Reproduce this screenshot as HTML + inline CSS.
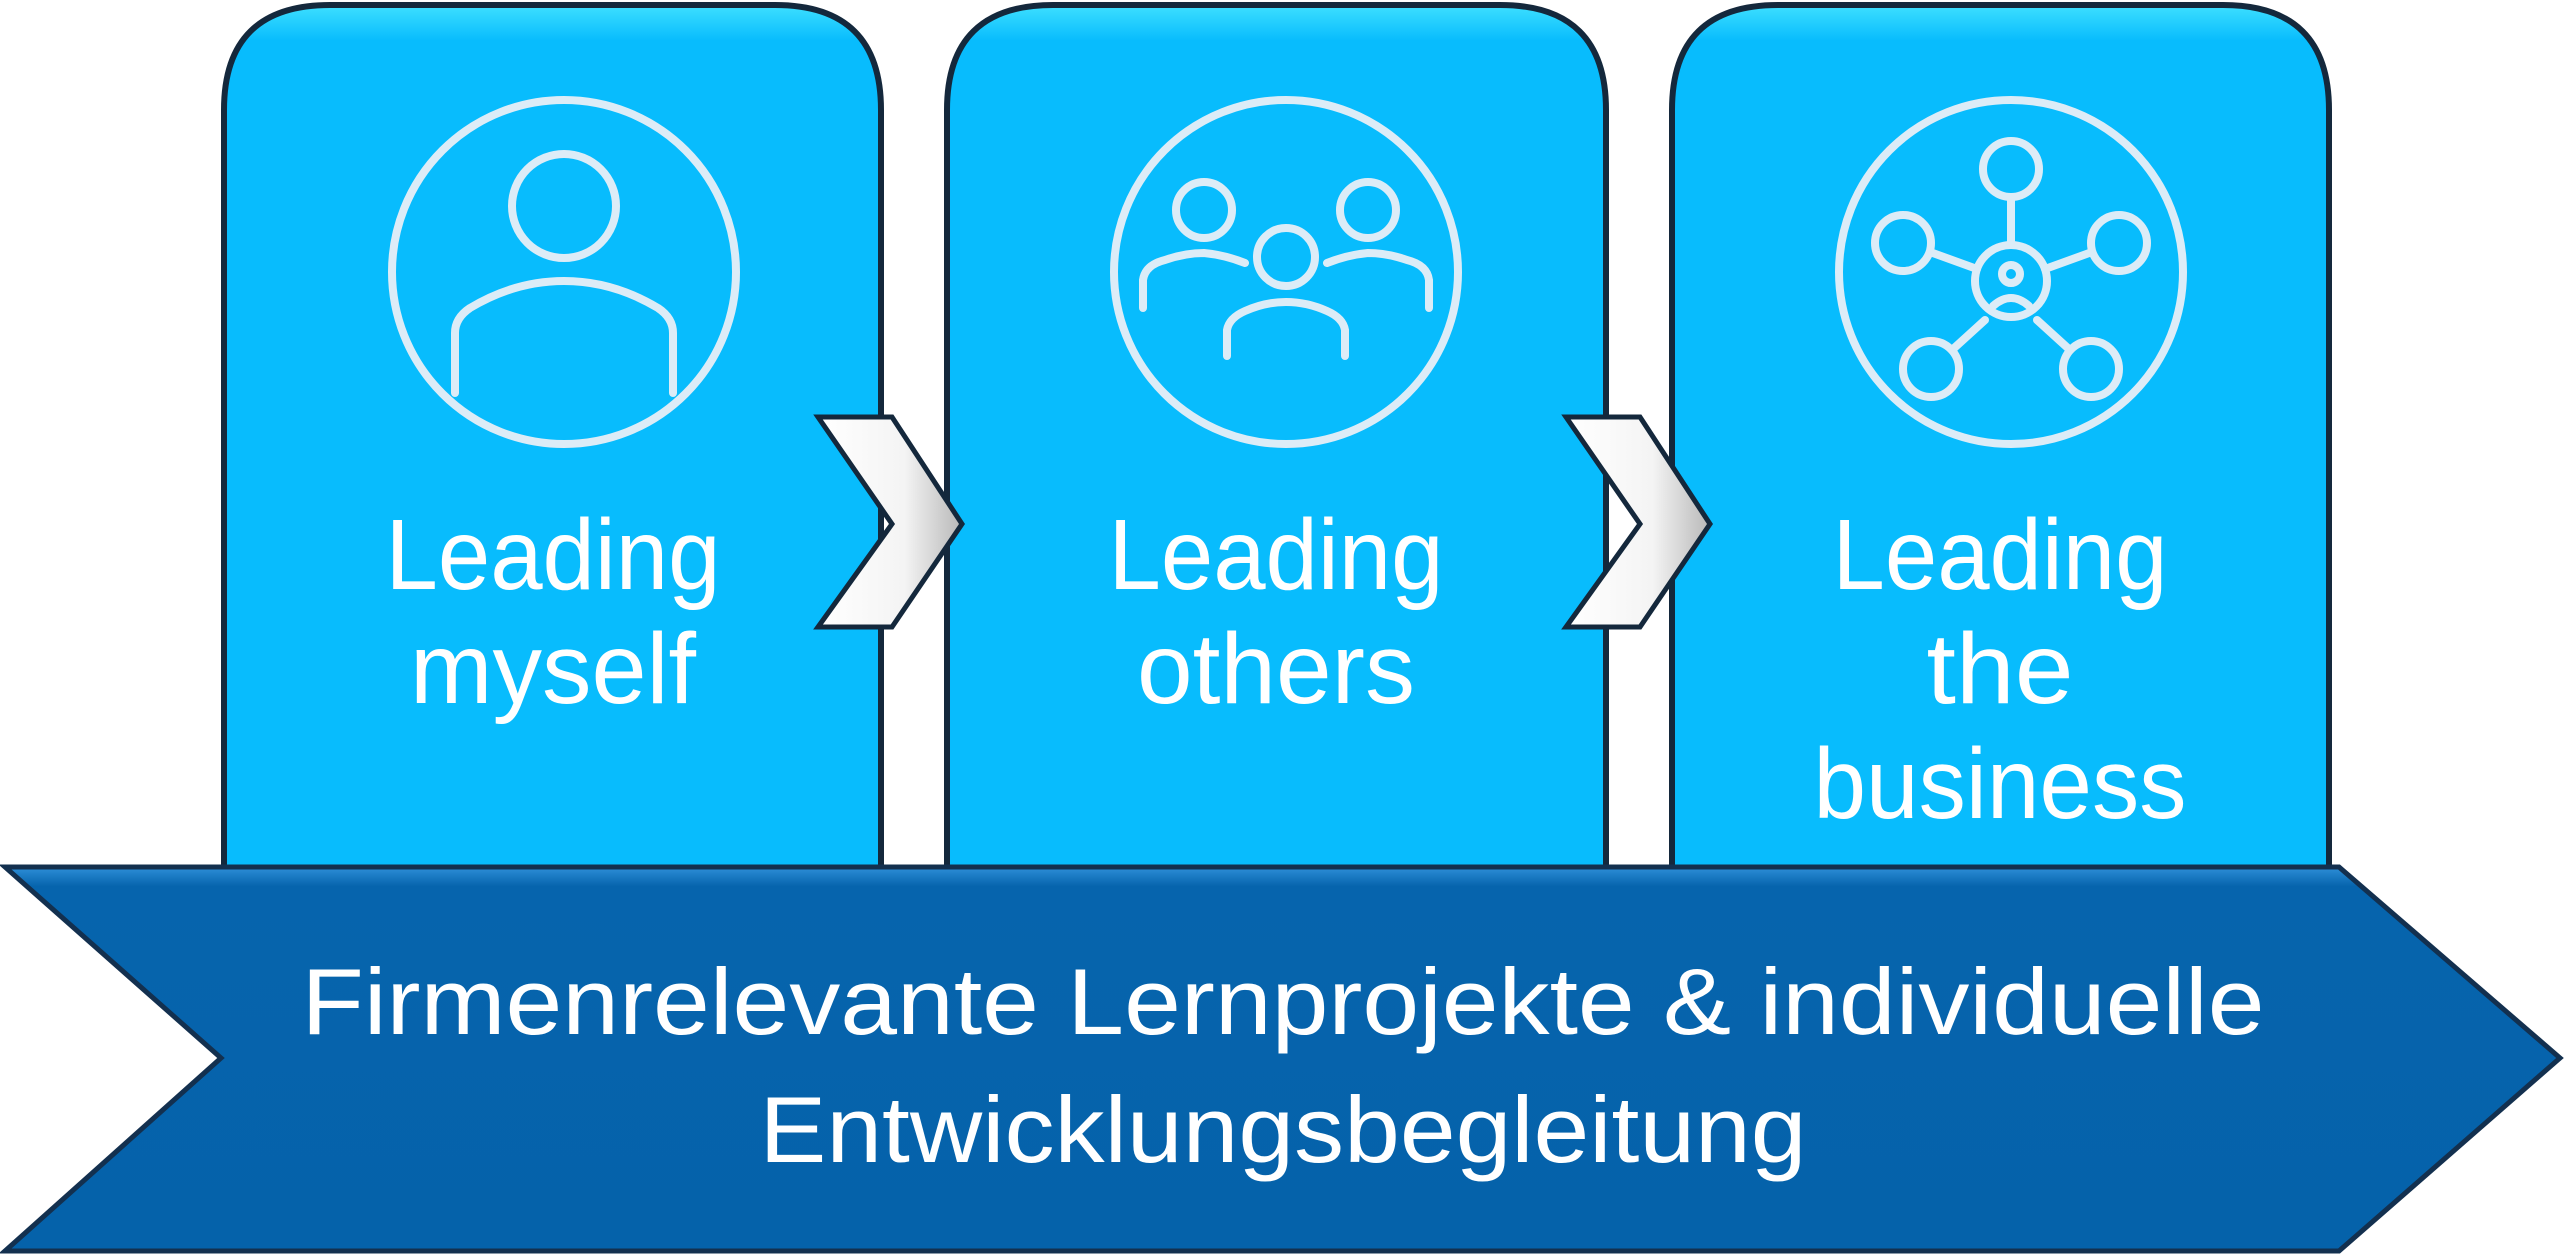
<!DOCTYPE html>
<html><head><meta charset="utf-8"><style>html,body{margin:0;padding:0;background:#fff}svg{display:block}</style></head>
<body>
<svg width="2565" height="1260" viewBox="0 0 2565 1260" xmlns="http://www.w3.org/2000/svg">
<defs>
<linearGradient id="bx" x1="0" y1="0" x2="0" y2="1">
<stop offset="0" stop-color="#3ee0ff"/><stop offset="0.04" stop-color="#08bcfd"/><stop offset="1" stop-color="#08bcfd"/>
</linearGradient>
<linearGradient id="bn" x1="0" y1="0" x2="0" y2="1">
<stop offset="0" stop-color="#2e8fd8"/><stop offset="0.05" stop-color="#0664ad"/><stop offset="1" stop-color="#0562aa"/>
</linearGradient>
<linearGradient id="ch" x1="0" y1="0" x2="1" y2="0">
<stop offset="0" stop-color="#ffffff"/><stop offset="0.6" stop-color="#f4f4f4"/><stop offset="1" stop-color="#b8b8b8"/>
</linearGradient>
</defs>
<g stroke="#14283c" stroke-width="6" fill="url(#bx)">
<path d="M224 900 V110 Q224 5 330 5 H775 Q881 5 881 110 V900 Z"/>
<path d="M947 900 V110 Q947 5 1053 5 H1500 Q1606 5 1606 110 V900 Z"/>
<path d="M1672 900 V110 Q1672 5 1778 5 H2223 Q2329 5 2329 110 V900 Z"/>
</g>
<g fill="url(#ch)" stroke="#14283c" stroke-width="5">
<polygon points="818,417 892,417 962,524 892,627 818,627 892,524"/>
<polygon points="1566,417 1640,417 1710,524 1640,627 1566,627 1640,524"/>
</g>
<polygon points="5,867 2339,867 2560,1058 2339,1251 5,1251 221,1058" fill="url(#bn)" stroke="#13304f" stroke-width="5"/>
<g fill="none" stroke="#dcecf7" stroke-width="8" stroke-linecap="round">
<circle cx="564" cy="272" r="172"/>
<circle cx="564" cy="206" r="52"/>
<path d="M455 393 V333 Q455 318 470 308 Q515 281 564 281 Q613 281 658 308 Q673 318 673 333 V393"/>
<circle cx="1286" cy="272" r="172"/>
<circle cx="1204" cy="210" r="28"/>
<circle cx="1368" cy="210" r="28"/>
<circle cx="1286" cy="257" r="29"/>
<path d="M1143 308 V280 Q1145 265 1165 260 Q1185 253 1204 253 Q1225 255 1245 263"/>
<path d="M1429 308 V280 Q1427 265 1407 260 Q1387 253 1368 253 Q1347 255 1327 263"/>
<path d="M1227 356 V330 Q1229 318 1245 311 Q1265 302 1286 302 Q1307 302 1327 311 Q1343 318 1345 330 V356"/>
<circle cx="2011" cy="272" r="172"/>
<circle cx="2011" cy="281" r="36"/>
<circle cx="2011" cy="274" r="9"/>
<path d="M1993 306 Q2011 290 2029 306"/>
<circle cx="2011" cy="169" r="28"/>
<circle cx="1903" cy="243" r="28"/>
<circle cx="2119" cy="243" r="28"/>
<circle cx="1931" cy="369" r="28"/>
<circle cx="2091" cy="369" r="28"/>
<path d="M2011 197 V245 M1930 252 L1977 269 M2092 252 L2045 269 M1952 350 L1985 320 M2070 350 L2037 320"/>
</g>
<g fill="#ffffff" font-family="Liberation Sans, sans-serif" font-size="100" text-anchor="middle">
<text x="553" y="589" textLength="335" lengthAdjust="spacingAndGlyphs">Leading</text>
<text x="553" y="703" textLength="286" lengthAdjust="spacingAndGlyphs">myself</text>
<text x="1276" y="589" textLength="335" lengthAdjust="spacingAndGlyphs">Leading</text>
<text x="1276" y="703" textLength="278" lengthAdjust="spacingAndGlyphs">others</text>
<text x="2000" y="589" textLength="335" lengthAdjust="spacingAndGlyphs">Leading</text>
<text x="2000" y="703" textLength="147" lengthAdjust="spacingAndGlyphs">the</text>
<text x="2000" y="818" textLength="373" lengthAdjust="spacingAndGlyphs">business</text>
<text x="1283" y="1034" font-size="94" textLength="1963" lengthAdjust="spacingAndGlyphs">Firmenrelevante Lernprojekte &amp; individuelle</text>
<text x="1283" y="1162" font-size="94" textLength="1047" lengthAdjust="spacingAndGlyphs">Entwicklungsbegleitung</text>
</g>
</svg>
</body></html>
